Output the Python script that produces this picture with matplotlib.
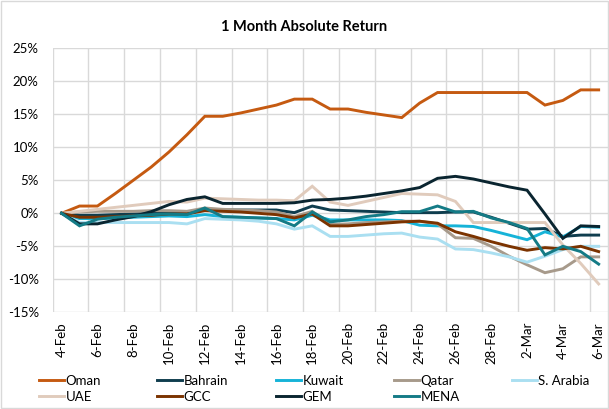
import numpy as np
import pandas as pd
import matplotlib
matplotlib.use('Agg')
import matplotlib.pyplot as plt
from matplotlib.patches import Rectangle

plt.rcParams['font.family'] = ['Lato', 'DejaVu Sans']

# daily points, 4-Feb to 6-Mar 2019
dates = pd.date_range('2019-02-04', '2019-03-06', freq='D')
tick_labels = ['%d-%s' % (d.day, d.strftime('%b')) for d in dates]

names = ['Oman', 'Bahrain', 'Kuwait', 'Qatar', 'S. Arabia', 'UAE', 'GCC', 'GEM', 'MENA']
colors = ['#c55a11', '#0f3d4e', '#16b3d8', '#a79a8b', '#aadff1',
          '#e0cbbc', '#7b3300', '#0a2530', '#147b86']

# returns in %
oman = [0, 1.1, 1.1, 3.0, 5.0, 7.0, 9.3, 11.9, 14.7, 14.7, 15.2, 15.8, 16.4, 17.3, 17.3, 15.8,
        15.8, 15.3, 14.9, 14.5, 16.7, 18.3, 18.3, 18.3, 18.3, 18.3, 18.3, 16.4, 17.1, 18.7, 18.7]
bahrain = [0, -0.3, -0.3, -0.2, -0.1, 0.0, 0.1, 0.2, 0.6, 0.5, 0.5, 0.5, 0.5, 0.1, 1.1, 0.5,
           0.4, 0.3, 0.2, 0.1, 0.1, 0.1, 0.2, 0.2, -0.6, -1.5, -2.4, -2.3, -3.5, -3.3, -3.3]
kuwait = [0, -0.8, -0.8, -0.7, -0.6, -0.5, -0.4, -0.5, -0.2, -0.5, -0.6, -0.7, -0.8, -1.0, -0.3, -1.0,
          -1.0, -1.0, -1.0, -1.1, -1.8, -1.9, -1.9, -2.0, -2.6, -3.3, -4.0, -2.8, -3.6, -2.0, -2.1]
qatar = [0, 0.2, 0.3, 0.3, 0.3, 0.4, 0.4, 0.3, 0.8, 0.6, 0.5, 0.4, 0.2, -0.5, 0.3, -1.7,
         -1.6, -1.4, -1.3, -1.2, -1.2, -1.6, -3.7, -3.8, -5.0, -6.5, -7.8, -9.0, -8.4, -6.6, -6.6]
s_arabia = [0, -1.4, -1.4, -1.4, -1.4, -1.4, -1.4, -1.6, -0.8, -0.9, -1.0, -1.2, -1.6, -2.4, -1.9, -3.5,
            -3.5, -3.3, -3.1, -3.0, -3.6, -3.9, -5.4, -5.5, -6.0, -6.6, -7.4, -6.5, -5.5, -5.0, -5.0]
uae = [0, 0.3, 0.6, 0.9, 1.2, 1.5, 1.8, 1.7, 2.3, 2.2, 2.1, 2.0, 2.0, 1.9, 4.1, 1.7,
       1.2, 1.8, 2.4, 3.0, 2.9, 2.8, 1.8, -1.4, -1.4, -1.4, -1.4, -1.4, -4.8, -7.6, -10.7]
gcc = [0, -0.6, -0.6, -0.5, -0.4, -0.3, -0.1, -0.1, 0.4, 0.3, 0.2, 0.0, -0.2, -0.7, -0.1, -1.9,
       -1.9, -1.7, -1.5, -1.3, -1.2, -1.5, -2.8, -3.5, -4.3, -5.0, -5.6, -5.2, -5.4, -5.0, -5.8]
gem = [0, -1.6, -1.6, -1.0, -0.5, 0.25, 1.3, 2.1, 2.5, 1.5, 1.5, 1.5, 1.5, 1.6, 2.0, 2.1,
       2.3, 2.6, 3.0, 3.4, 3.9, 5.3, 5.6, 5.2, 4.6, 4.0, 3.5, -0.1, -3.8, -1.9, -2.0]
mena = [0, -1.9, -0.9, -0.6, -0.4, -0.2, -0.1, -0.2, 0.8, -0.5, -0.6, -0.7, -0.8, -1.9, 0.2, -1.3,
        -1.0, -0.5, -0.2, 0.25, 0.25, 1.1, 0.2, 0.3, -0.7, -1.4, -2.3, -6.3, -5.0, -5.8, -7.7]

series = [oman, bahrain, kuwait, qatar, s_arabia, uae, gcc, gem, mena]

fig = plt.figure(figsize=(6.09, 4.09), dpi=100)
ax = fig.add_axes([0.0865, 0.2364, 0.9112, 0.6455])

x = np.arange(len(dates))
lines = []
for name, vals, c in zip(names, series, colors):
    ln, = ax.plot(x, vals, color=c, lw=2.1, label=name, solid_joinstyle='miter')
    lines.append(ln)

ax.set_xlim(-0.5, len(dates) - 0.5)
ax.set_ylim(-15, 25)
ax.set_yticks(np.arange(-15, 26, 5))
ax.set_yticklabels(['%d%%' % v for v in np.arange(-15, 26, 5)])
ax.set_xticks(x[::2])
ax.set_xticklabels(tick_labels[::2], rotation=90)
ax.set_xticks(np.arange(-0.5, len(dates) - 1, 2), minor=True)

ax.grid(axis='y', which='major', color='#d9d9d9', lw=1)
ax.grid(axis='x', which='minor', color='#d9d9d9', lw=1)
ax.set_axisbelow(True)
for s in ax.spines.values():
    s.set_visible(False)
ax.tick_params(axis='y', length=0, pad=10, labelsize=9.5, colors='#000000')
ax.tick_params(axis='x', which='both', length=0, pad=7, labelsize=9.5)

fig.text(0.5, 0.933, '1 Month Absolute Return', ha='center', va='center',
         fontsize=10.5, fontweight='bold')

# legend: uniform columns, filled row-wise
col_x = [39, 157, 276, 394, 512]
for c in range(5):
    idx = [i for i in (c, c + 5) if i < len(lines)]
    fig.legend(handles=[lines[i] for i in idx], loc='upper left',
               bbox_to_anchor=(col_x[c] / 609, 1 - 375 / 409), frameon=False,
               fontsize=9.5, handlelength=1.9, handletextpad=0.1,
               borderpad=0, borderaxespad=0, labelspacing=0.3)

fig.patches.append(Rectangle((0.002, 0.002), 0.996, 0.996, transform=fig.transFigure,
                             fill=False, edgecolor='#d9d9d9', lw=1))

fig.savefig('out.png', dpi=100)
